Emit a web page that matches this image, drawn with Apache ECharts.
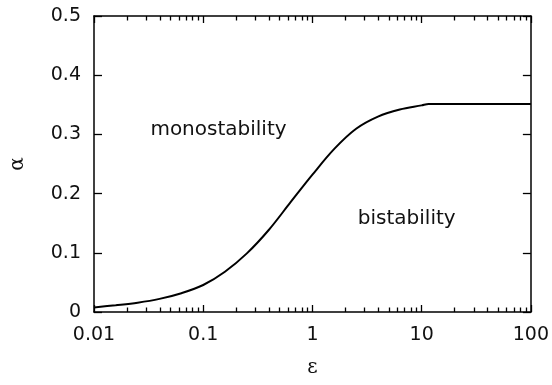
<!DOCTYPE html>
<html>
<head>
<meta charset="utf-8">
<script src="https://cdn.jsdelivr.net/npm/echarts@6/dist/echarts.min.js"></script>
<style>html,body{margin:0;padding:0;background:#fff}#c{width:552px;height:385px}</style>
</head>
<body>
<div id="c"></div>
<script>
// Boundary curve alpha(epsilon)
const epsValues   = [0.01,   0.0158, 0.0251, 0.0398, 0.0631, 0.1,    0.158, 0.251, 0.398,  0.631,  1,     1.585,  2.512,  3.98,  6.31,  10,    11.6,   20,     50,     100];
const alphaValues = [0.0078, 0.0115, 0.0158, 0.0222, 0.0318, 0.0456, 0.068, 0.099, 0.1385, 0.1855, 0.232, 0.2755, 0.3095, 0.330, 0.342, 0.349, 0.3514, 0.3514, 0.3514, 0.3514];

const xMajorTicks = [0.01, 0.1, 1, 10, 100];
const xTickLabels = ['0.01', '0.1', '1', '10', '100'];
const xMinorTicks = [0.02,0.03,0.04,0.05,0.06,0.07,0.08,0.09,
                     0.2,0.3,0.4,0.5,0.6,0.7,0.8,0.9,
                     2,3,4,5,6,7,8,9,
                     20,30,40,50,60,70,80,90];
const yTickValues = [0, 0.1, 0.2, 0.3, 0.4, 0.5];
const yTickLabels = ['0', '0.1', '0.2', '0.3', '0.4', '0.5'];

const regionLabels = ['monostability', 'bistability'];
const regionEps = [0.138, 7.3];
const regionAlpha = [0.307, 0.157];

const xName = 'ε';
const yName = 'α';

const fontFam = '"DejaVu Sans", sans-serif';
const lineCol = '#000';
const textCol = '#111';

function xLabelFmt(v) {
  let best = 0, bd = Infinity;
  xMajorTicks.forEach((t, i) => { const d = Math.abs(Math.log10(v) - Math.log10(t)); if (d < bd) { bd = d; best = i; } });
  return xTickLabels[best];
}
function yLabelFmt(v) {
  let best = 0, bd = Infinity;
  yTickValues.forEach((t, i) => { const d = Math.abs(v - t); if (d < bd) { bd = d; best = i; } });
  return yTickLabels[best];
}

function xAx(pos, vals, len, showLine, showLabel, name) {
  return {
    type: 'log', logBase: 10, min: 0.01, max: 100, position: pos,
    name: name || '', nameLocation: 'middle', nameGap: 46,
    nameTextStyle: { fontFamily: '"DejaVu Serif", serif', fontSize: 20, color: textCol },
    axisLine: { show: showLine, lineStyle: { color: lineCol, width: 1.5 } },
    axisTick: { show: true, inside: true, length: len, customValues: vals, lineStyle: { color: lineCol, width: 1.3 } },
    axisLabel: { show: showLabel, customValues: xMajorTicks, formatter: xLabelFmt, margin: 14, fontFamily: fontFam, fontSize: 19, color: textCol },
    minorTick: { show: false },
    splitLine: { show: false }
  };
}

const chart = echarts.init(document.getElementById('c'), null, { renderer: 'canvas' });
chart.setOption({
  animation: false,
  backgroundColor: '#fff',
  grid: { left: 91, right: 18, top: 16, bottom: 73, containLabel: false },
  xAxis: [
    xAx('bottom', xMajorTicks, 7, true, true, xName),
    xAx('bottom', xMinorTicks, 4.5, false, false),
    xAx('top', xMajorTicks, 7, true, false),
    xAx('top', xMinorTicks, 4.5, false, false)
  ],
  yAxis: [
    {
      type: 'value', min: 0, max: 0.5, interval: 0.1, position: 'left',
      name: yName, nameLocation: 'middle', nameGap: 66, nameRotate: 90,
      nameTextStyle: { fontFamily: '"DejaVu Serif", serif', fontSize: 20, color: textCol },
      axisLine: { show: true, lineStyle: { color: lineCol, width: 1.5 } },
      axisTick: { show: true, inside: true, length: 8, lineStyle: { color: lineCol, width: 1.3 } },
      axisLabel: { formatter: yLabelFmt, margin: 13, fontFamily: fontFam, fontSize: 19, color: textCol },
      splitLine: { show: false }
    },
    {
      type: 'value', min: 0, max: 0.5, interval: 0.1, position: 'right',
      axisLine: { show: true, lineStyle: { color: lineCol, width: 1.5 } },
      axisTick: { show: true, inside: true, length: 8, lineStyle: { color: lineCol, width: 1.3 } },
      axisLabel: { show: false },
      splitLine: { show: false }
    }
  ],
  series: [
    {
      type: 'line', xAxisIndex: 0, yAxisIndex: 0,
      data: epsValues.map((e, i) => [e, alphaValues[i]]),
      showSymbol: false, smooth: 0.35,
      lineStyle: { color: '#000', width: 2 },
      silent: true
    },
    {
      type: 'scatter', xAxisIndex: 0, yAxisIndex: 0,
      symbolSize: 0,
      itemStyle: { opacity: 1 },
      data: regionLabels.map((t, i) => ({ name: t, value: [regionEps[i], regionAlpha[i]] })),
      label: { show: true, position: 'inside', formatter: p => p.name, fontFamily: fontFam, fontSize: 20, color: textCol, opacity: 1 },
      silent: true
    }
  ]
});
</script>
</body>
</html>
